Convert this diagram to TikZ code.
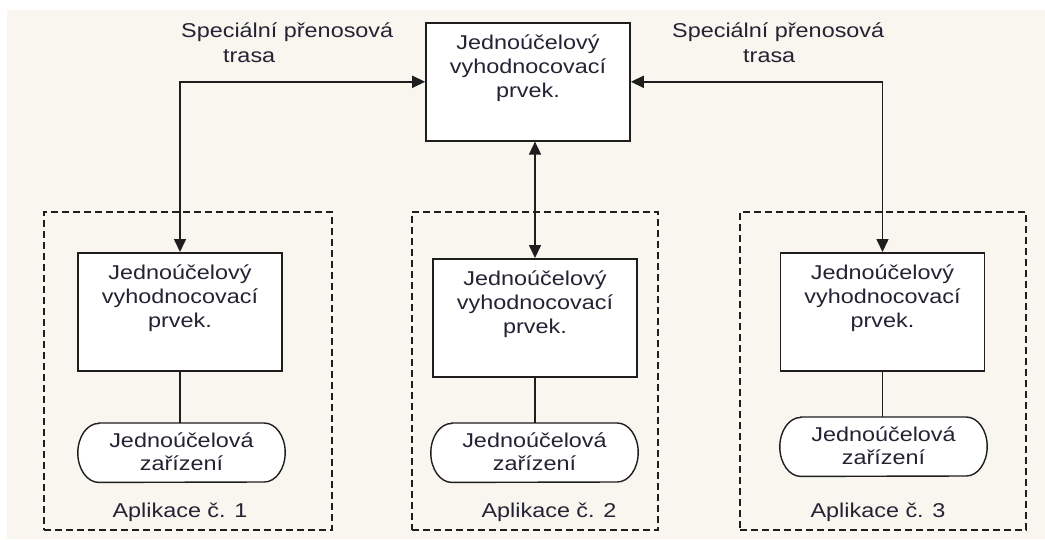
\documentclass[tikz,border=0pt]{standalone}
\usepackage{fontspec}
\setmainfont{Liberation Sans}[FakeStretch=1.17]
\usetikzlibrary{arrows.meta,backgrounds,calc}
\definecolor{paper}{RGB}{248,246,239}
\definecolor{ink}{RGB}{35,35,52}
\definecolor{linec}{RGB}{30,30,30}
\begin{document}
\begin{tikzpicture}[x=1pt,y=-1pt,
  font=\fontsize{20}{23.7}\selectfont,
  every node/.style={text=ink},
  unit/.style={draw=linec, line width=1.6pt, fill=white, text width=204pt,
    inner xsep=0pt, inner ysep=0pt, align=center, text height=27pt, text depth=91pt},
  term/.style={text width=207pt, inner xsep=0pt, inner ysep=0pt, align=center,
    text height=24pt, text depth=35pt},
  termline/.style={draw=linec, line width=1.4pt, fill=white},
  group/.style={draw=linec, line width=1.4pt, dash pattern=on 7pt off 4pt},
  conn/.style={draw=linec, line width=1.6pt},
  arr/.style={{Triangle[length=13pt,width=12pt]}-{Triangle[length=13pt,width=12pt]}},
  caption/.style={inner sep=0pt, anchor=base},
  route/.style={inner sep=0pt, align=left, anchor=base west, font=\fontsize{20}{25}\selectfont}]
\useasboundingbox (0,0) rectangle (1045,539);
\begin{pgfonlayer}{background}
  \fill[white] (0,0) rectangle (1045,539);
  \fill[paper] (7,10) rectangle (1045,539);
\end{pgfonlayer}

% central evaluation unit
\node[unit, anchor=north] (top) at (528,22) {Jednoúčelový\\vyhodnocovací\\prvek.};

% route labels (anchored on the baseline of the last line)
\node[route] (r1) at (181,62) {Speciální přenosová\\\hspace*{42pt}trasa};
\node[route] (r2) at (672,62) {Speciální přenosová\\\hspace*{71pt}trasa};

% application groups
\node[group, minimum width=288pt, minimum height=318pt, inner sep=0pt] (g1) at (188,371) {};
\node[group, minimum width=246pt, minimum height=318pt, inner sep=0pt] (g2) at (535,371) {};
\node[group, minimum width=286pt, minimum height=318pt, inner sep=0pt] (g3) at (883,371) {};

% local evaluation units
\node[unit, anchor=north] (u1) at (180,252) {Jednoúčelový\\vyhodnocovací\\prvek.};
\node[unit, anchor=north] (u2) at (535,258) {Jednoúčelový\\vyhodnocovací\\prvek.};
\node[unit, anchor=north] (u3) at (882.5,252) {Jednoúčelový\\vyhodnocovací\\prvek.};

% single-purpose devices
\node[term, anchor=north] (t1) at (181.5,423) {Jednoúčelová\\zařízení};
\node[term, anchor=north] (t2) at (534.5,423) {Jednoúčelová\\zařízení};
\node[term, anchor=north] (t3) at (883.5,417) {Jednoúčelová\\zařízení};
\begin{pgfonlayer}{background}
  \foreach \t in {t1,t2,t3}{
    \draw[termline] ($(\t.north west)+(21,0)$) -- ($(\t.north east)+(-21,0)$)
      arc[start angle=90, end angle=-90, x radius=21pt, y radius=29.5pt]
      -- ($(\t.south west)+(21,0)$)
      arc[start angle=270, end angle=90, x radius=21pt, y radius=29.5pt] -- cycle;
  }
\end{pgfonlayer}

% captions
\node[caption] (c1) at (180,517) {Aplikace č. 1};
\node[caption] (c2) at (549,517) {Aplikace č. 2};
\node[caption] (c3) at (878,517) {Aplikace č. 3};

% transfer routes
\draw[conn, arr] (u1.north) |- (top.west);
\draw[conn, arr] (u2.north) -- (u2.north |- top.south);
\draw[conn, arr] (u3.north) |- (top.east);

% unit to device links
\draw[conn] (u1.south) -- (u1.south |- t1.north);
\draw[conn] (u2.south) -- (u2.south |- t2.north);
\draw[conn] (u3.south) -- (u3.south |- t3.north);
\end{tikzpicture}
\end{document}
